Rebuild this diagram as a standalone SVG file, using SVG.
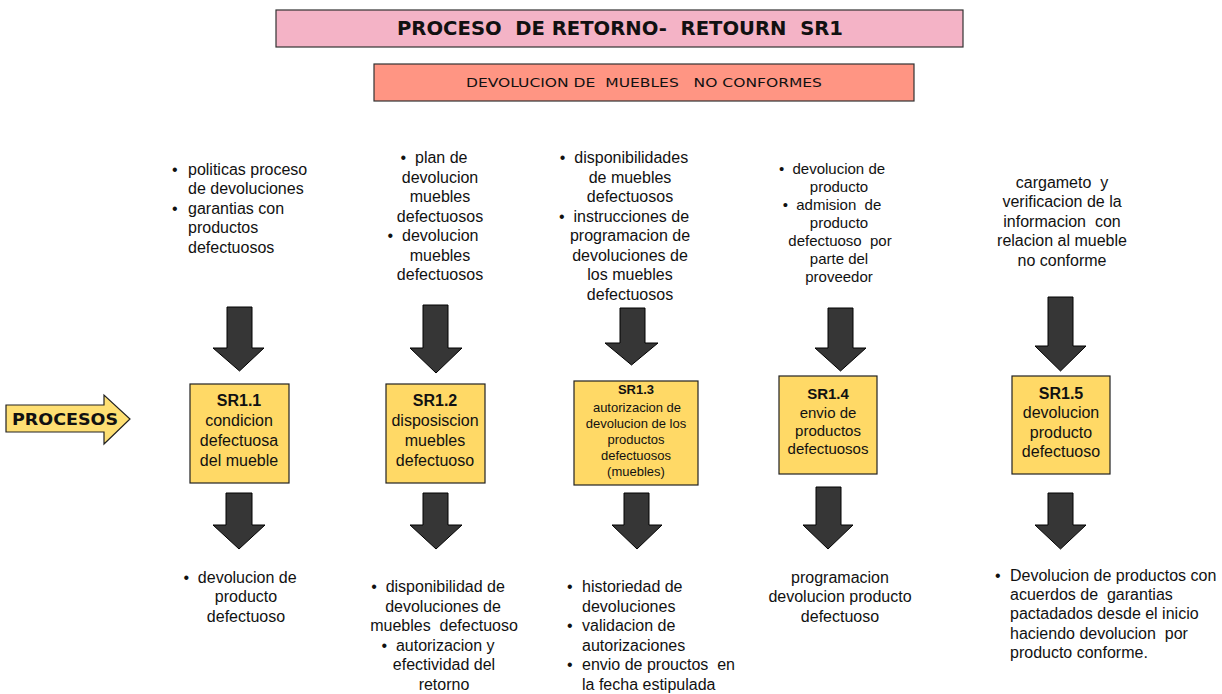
<svg xmlns="http://www.w3.org/2000/svg" width="1222" height="694" viewBox="0 0 1222 694">
  <style>
    text { white-space: pre; }
    .t { font-family: "Liberation Sans", Arial, sans-serif; font-size: 16px; fill: #111; }
    .s15 { font-size: 15px; }
    .s13 { font-size: 13px; }
    .c { text-anchor: middle; }
    .b { font-weight: bold; }
    .box { fill: #ffd966; stroke: #222; stroke-width: 1.2; }
    .dn { fill: #363636; stroke: #000; stroke-width: 1; }
    .hdr { font-family: "DejaVu Sans Condensed", "DejaVu Sans", sans-serif; fill: #111; text-anchor: middle; }
    .hb { font-weight: bold; }
  </style>

  <!-- headers -->
  <g id="title">
    <rect x="276" y="10" width="687" height="37" fill="#f4b3c6" stroke="#333" stroke-width="1.2"/>
    <text class="hdr hb" x="620" y="35" font-size="19" textLength="446" lengthAdjust="spacingAndGlyphs">PROCESO  DE RETORNO-  RETOURN  SR1</text>
  </g>
  <g id="subtitle">
    <rect x="374" y="64" width="540" height="37" fill="#ff9583" stroke="#333" stroke-width="1.2"/>
    <text class="hdr" x="644" y="87" font-size="13" textLength="356" lengthAdjust="spacingAndGlyphs">DEVOLUCION DE  MUEBLES   NO CONFORMES</text>
  </g>

  <!-- side label arrow -->
  <g id="procesos">
    <path d="M6,405 H104 V395 L130,419 L104,444 V432 H6 Z" fill="#fedf73" stroke="#222" stroke-width="1.2"/>
    <text class="hdr hb" x="65" y="425" font-size="15" textLength="106" lengthAdjust="spacingAndGlyphs">PROCESOS</text>
  </g>

  <!-- input notes -->
  <g id="in1" class="t">
    <text x="172" y="175">•</text><text x="188" y="175">politicas proceso</text>
    <text x="188" y="194">de devoluciones</text>
    <text x="172" y="214">•</text><text x="188" y="214">garantias con</text>
    <text x="188" y="233">productos</text>
    <text x="188" y="253">defectuosos</text>
  </g>
  <g id="in2" class="t c">
    <text x="434" y="163">•  plan de</text>
    <text x="440" y="183">devolucion</text>
    <text x="440" y="202">muebles</text>
    <text x="440" y="222">defectuosos</text>
    <text x="433" y="241">•  devolucion</text>
    <text x="440" y="261">muebles</text>
    <text x="440" y="280">defectuosos</text>
  </g>
  <g id="in3" class="t c">
    <text x="624" y="163">•  disponibilidades</text>
    <text x="630" y="183">de muebles</text>
    <text x="630" y="202">defectuosos</text>
    <text x="624" y="222">•  instrucciones de</text>
    <text x="630" y="241">programacion de</text>
    <text x="630" y="261">devoluciones de</text>
    <text x="630" y="280">los muebles</text>
    <text x="630" y="300">defectuosos</text>
  </g>
  <g id="in4" class="t s15 c">
    <text x="832" y="174">•  devolucion de</text>
    <text x="839" y="192">producto</text>
    <text x="832" y="210">•  admision  de</text>
    <text x="839" y="228">producto</text>
    <text x="840" y="246">defectuoso  por</text>
    <text x="839" y="264">parte del</text>
    <text x="839" y="282">proveedor</text>
  </g>
  <g id="in5" class="t c">
    <text x="1062" y="188">cargameto  y</text>
    <text x="1062" y="207">verificacion de la</text>
    <text x="1062" y="227">informacion  con</text>
    <text x="1062" y="246">relacion al mueble</text>
    <text x="1062" y="266">no conforme</text>
  </g>

  <!-- process boxes -->
  <g id="sr11">
    <rect class="box" x="190" y="384" width="99" height="99"/>
    <g class="t c">
      <text class="b" x="239" y="406">SR1.1</text>
      <text x="239" y="426">condicion</text>
      <text x="239" y="446">defectuosa</text>
      <text x="239" y="466">del mueble</text>
    </g>
  </g>
  <g id="sr12">
    <rect class="box" x="386" y="384" width="99" height="99"/>
    <g class="t c">
      <text class="b" x="435" y="406">SR1.2</text>
      <text x="435" y="426">disposiscion</text>
      <text x="435" y="446">muebles</text>
      <text x="435" y="466">defectuoso</text>
    </g>
  </g>
  <g id="sr13">
    <rect class="box" x="574" y="381" width="124" height="104"/>
    <g class="t s13 c">
      <text class="b" x="636" y="394">SR1.3</text>
      <text x="637" y="412">autorizacion de</text>
      <text x="636" y="428">devolucion de los</text>
      <text x="636" y="444">productos</text>
      <text x="636" y="460">defectuosos</text>
      <text x="636" y="476">(muebles)</text>
    </g>
  </g>
  <g id="sr14">
    <rect class="box" x="779" y="376" width="98" height="98"/>
    <g class="t s15 c">
      <text class="b" x="828" y="399">SR1.4</text>
      <text x="828" y="418">envio de</text>
      <text x="828" y="436">productos</text>
      <text x="828" y="454">defectuosos</text>
    </g>
  </g>
  <g id="sr15">
    <rect class="box" x="1012" y="376" width="98" height="98"/>
    <g class="t c">
      <text class="b" x="1061" y="399">SR1.5</text>
      <text x="1061" y="418">devolucion</text>
      <text x="1061" y="438">producto</text>
      <text x="1061" y="457">defectuoso</text>
    </g>
  </g>

  <!-- output notes -->
  <g id="out1" class="t c">
    <text x="240" y="583">•  devolucion de</text>
    <text x="246" y="602">producto</text>
    <text x="246" y="622">defectuoso</text>
  </g>
  <g id="out2" class="t c">
    <text x="438" y="592">•  disponibilidad de</text>
    <text x="443" y="612">devoluciones de</text>
    <text x="444" y="631">muebles  defectuoso</text>
    <text x="438" y="651">•  autorizacion y</text>
    <text x="444" y="670">efectividad del</text>
    <text x="444" y="690">retorno</text>
  </g>
  <g id="out3" class="t">
    <text x="567" y="592">•</text><text x="582" y="592">historiedad de</text>
    <text x="582" y="612">devoluciones</text>
    <text x="567" y="631">•</text><text x="582" y="631">validacion de</text>
    <text x="582" y="651">autorizaciones</text>
    <text x="567" y="670">•</text><text x="582" y="670">envio de prouctos  en</text>
    <text x="582" y="690">la fecha estipulada</text>
  </g>
  <g id="out4" class="t c">
    <text x="840" y="583">programacion</text>
    <text x="840" y="602">devolucion producto</text>
    <text x="840" y="622">defectuoso</text>
  </g>
  <g id="out5" class="t">
    <text x="995" y="581">•</text><text x="1010" y="581">Devolucion de productos con</text>
    <text x="1010" y="600">acuerdos de  garantias</text>
    <text x="1010" y="619">pactadados desde el inicio</text>
    <text x="1010" y="639">haciendo devolucion  por</text>
    <text x="1010" y="658">producto conforme.</text>
  </g>

  <!-- block arrows: inputs into boxes, boxes into outputs -->
  <g id="connectors" class="dn">
    <path d="M227,307 H252 V348 H264 L239.5,371 L213,348 H227 Z"/>
    <path d="M423,305 H448 V348 H462 L436,373 L410,348 H423 Z"/>
    <path d="M620,308 H645 V343 H658 L631.5,365 L605,343 H620 Z"/>
    <path d="M828,308 H853 V348 H866 L840.5,371 L815,348 H828 Z"/>
    <path d="M1048,297 H1073 V346 H1086 L1060.5,371 L1035,346 H1048 Z"/>
    <path d="M226,493 H252 V525 H265 L239,549 L213,525 H226 Z"/>
    <path d="M423,493 H448 V525 H462 L436,549 L410,525 H423 Z"/>
    <path d="M624,493 H649 V525 H662 L637,549 L612,525 H624 Z"/>
    <path d="M816,487 H841 V525 H853 L828,549 L803,525 H816 Z"/>
    <path d="M1048,493 H1073 V525 H1086 L1060.5,549 L1035,525 H1048 Z"/>
  </g>
</svg>
